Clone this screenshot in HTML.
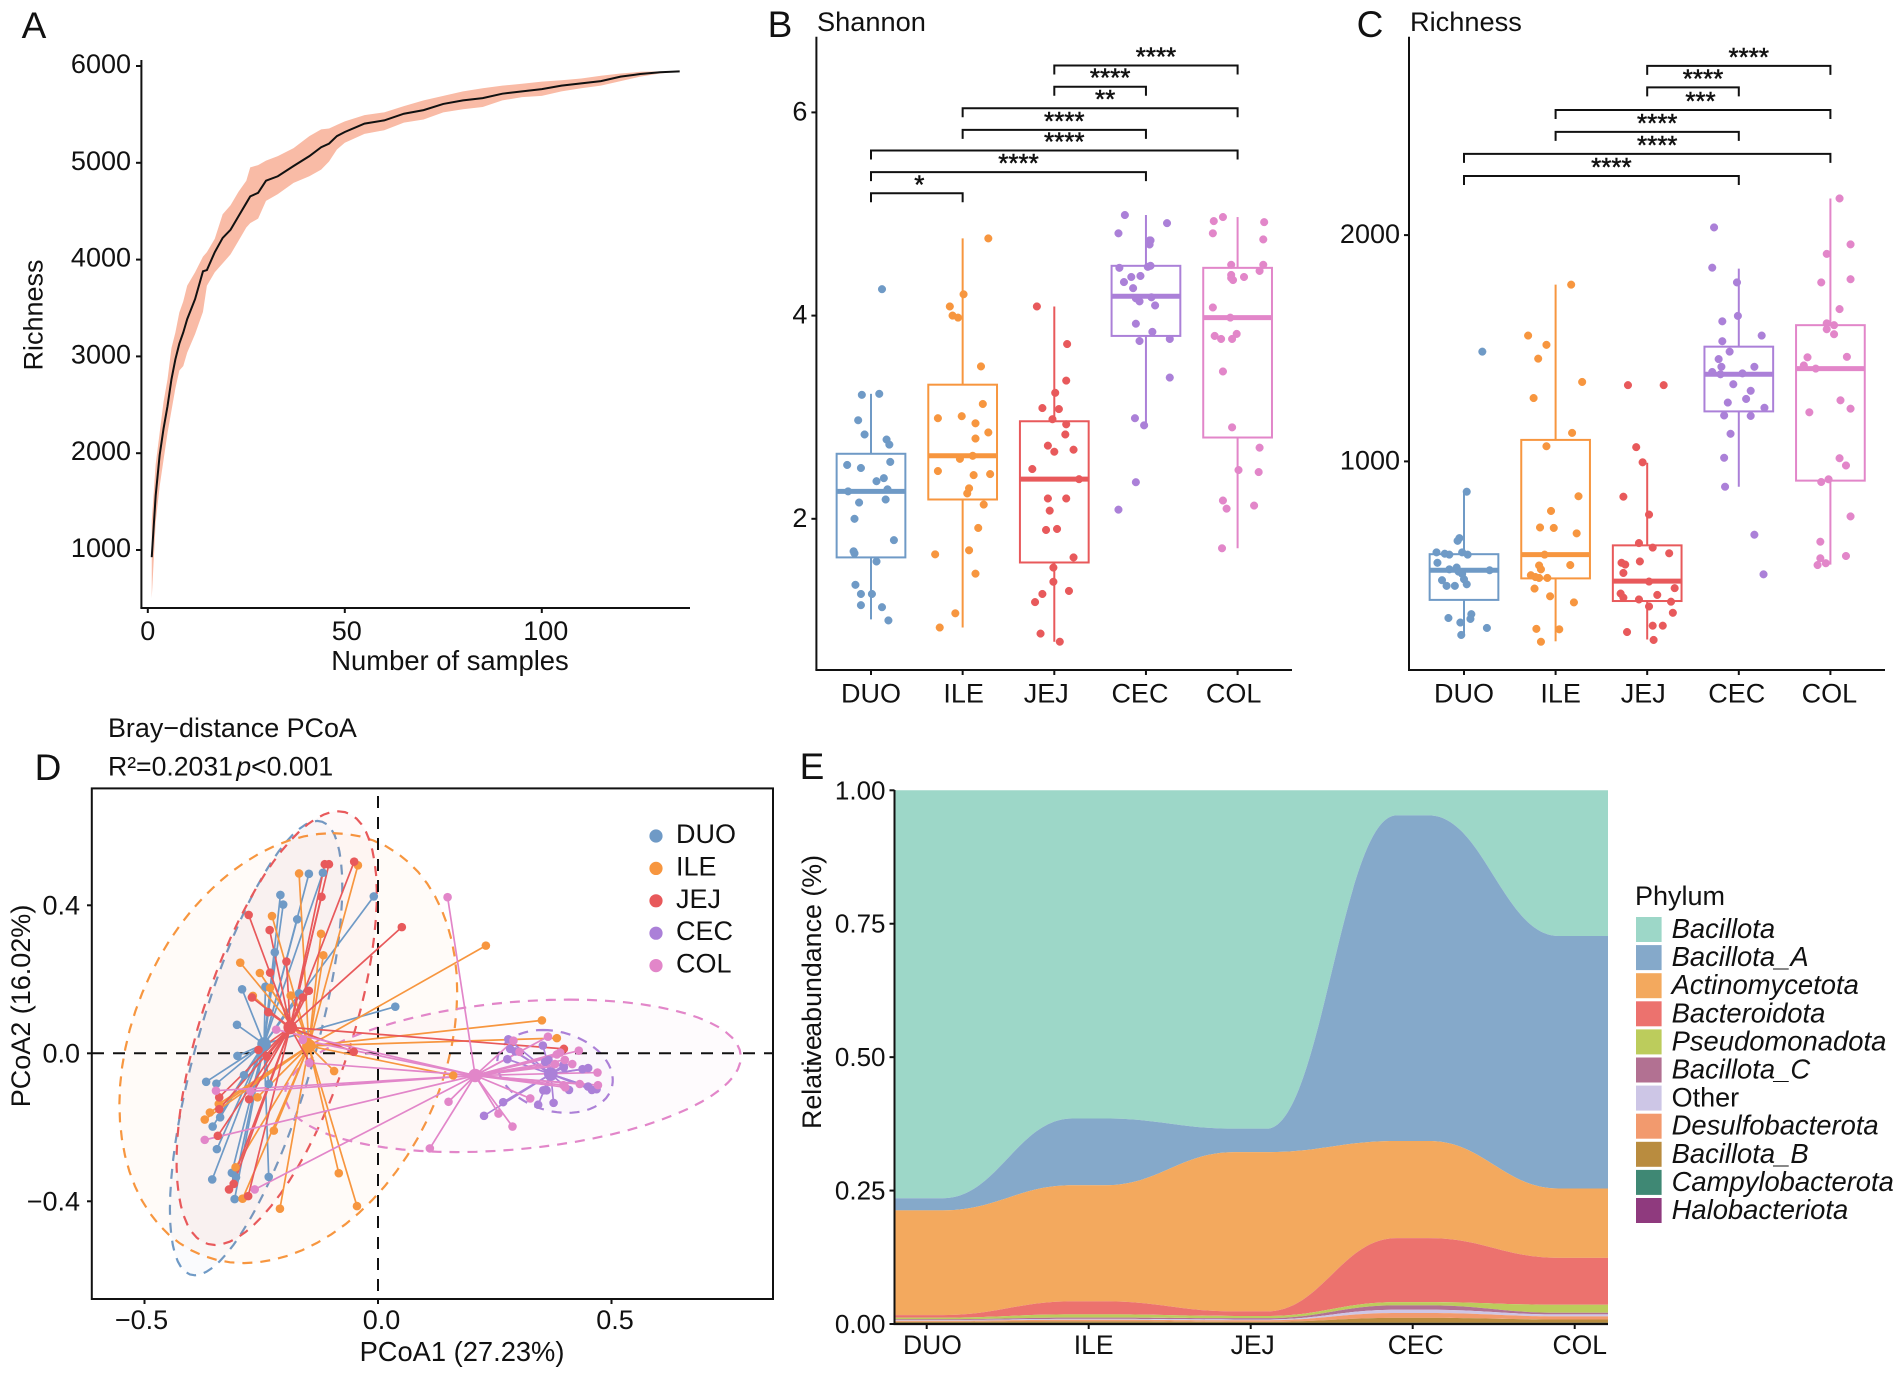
<!DOCTYPE html>
<html lang="en">
<head>
<meta charset="utf-8">
<title>Microbiome diversity figure</title>
<style>
html,body{margin:0;padding:0;background:#fff;width:1902px;height:1376px;overflow:hidden}
svg{display:block}
text{font-family:"Liberation Sans",Arial,sans-serif;fill:#111}
</style>
</head>
<body>
<svg id="fig" xmlns="http://www.w3.org/2000/svg" width="1902" height="1376" viewBox="0 0 1902 1376">
<rect width="1902" height="1376" fill="#fff"/>
<g id="panelA"></g>
<g id="panelB"></g>
<g id="panelC"></g>
<g id="panelD"></g>
<g id="panelE"></g>

<text x="34" y="38" font-size="37" text-anchor="middle">A</text>
<text x="780" y="37" font-size="37" text-anchor="middle">B</text>
<text x="1370" y="37" font-size="37" text-anchor="middle">C</text>
<text x="48" y="780" font-size="37" text-anchor="middle">D</text>
<text x="812" y="779" font-size="37" text-anchor="middle">E</text>

<text transform="translate(42.5,315) rotate(-90)" font-size="27" text-anchor="middle">Richness</text>
<text x="450" y="670" font-size="27.4" text-anchor="middle">Number of samples</text>
<text x="817" y="31" font-size="27.2">Shannon</text>
<text x="1410" y="31" font-size="27.2">Richness</text>

<text x="108" y="737" font-size="26.9">Bray−distance PCoA</text>
<text x="108" y="775.5" font-size="26.6">R²=0.2031 <tspan font-style="italic" dx="-4">p</tspan>&lt;0.001</text>
<text x="462" y="1361" font-size="27.3" text-anchor="middle">PCoA1 (27.23%)</text>
<text transform="translate(30,1006) rotate(-90)" font-size="27" text-anchor="middle">PCoA2 (16.02%)</text>

<text transform="translate(821,992) rotate(-90)" font-size="26.8" text-anchor="middle">Relati<tspan dx="-3">ve</tspan> <tspan dx="-9">abundance</tspan> (%)</text>
<text x="1635" y="905" font-size="27">Phylum</text>
</svg>
<script>
// ---------- Panel A data ----------
const rarefactionSamples=[1,2,3,4,5,6,7,8,9,10,12,14,15,17,19,21,23,25,26,28,30,33,37,41,44,46,48,50,55,60,65,70,75,80,85,90,95,100,105,110,115,120,125,130,135];
const rarefactionMean=[926,1563,1978,2255,2485,2762,2970,3131,3247,3385,3592,3879,3892,4077,4224,4308,4446,4584,4653,4690,4815,4861,4967,5069,5161,5198,5276,5318,5405,5438,5507,5544,5608,5645,5668,5714,5738,5761,5797,5821,5844,5890,5917,5936,5945];
const rarefactionLow=[500,1286,1655,1932,2208,2439,2670,2854,2900,3039,3230,3460,3730,3869,3961,4054,4192,4331,4377,4423,4607,4677,4792,4861,4930,5013,5138,5207,5299,5336,5415,5447,5521,5553,5576,5645,5678,5692,5738,5770,5797,5844,5890,5922,5945];
const rarefactionHigh=[1300,1886,2208,2531,2762,3085,3247,3454,3569,3731,3869,4031,4077,4215,4469,4562,4700,4815,4953,4976,5023,5069,5152,5276,5345,5354,5392,5428,5493,5521,5585,5645,5691,5738,5770,5797,5816,5839,5853,5871,5899,5922,5940,5945,5945];
const richnessYTicks=[1000,2000,3000,4000,5000,6000];
const samplesXTicks=[0,50,100];

// ---------- Shared categories ----------
const groups=['DUO','ILE','JEJ','CEC','COL'];
const groupColors=['#6f9ac6','#f7963f','#e8595b','#ab80d8','#e286c9'];

// ---------- Panel B data ----------
const shannonDUO=[4.26,3.22,3.23,2.97,2.83,2.78,2.73,2.56,2.53,2.50,2.40,2.37,2.29,2.27,2.19,2.16,2.00,1.79,1.68,1.66,1.58,1.35,1.26,1.26,1.15,1.13,1.00];
const shannonDUOJitter=[.12,-.10,.09,-.14,-.07,.17,.20,.21,-.26,-.11,.14,.06,.18,-.25,.16,-.13,-.18,.25,-.19,-.18,.06,-.17,-.11,.01,-.11,.12,.19];
const shannonILE=[4.76,4.21,4.09,4.00,3.98,3.50,3.13,2.99,3.01,2.94,2.85,2.79,2.62,2.59,2.47,2.43,2.44,2.30,2.25,2.14,1.91,1.69,1.65,1.46,1.07,.93];
const shannonILEJitter=[.28,.01,-.14,-.11,-.05,.20,.22,-.27,-.01,.14,.28,.14,.11,-.03,-.27,.12,.30,.07,.05,.23,.17,.07,-.30,.14,-.08,-.25];
const shannonJEJ=[4.09,3.72,3.36,3.24,3.09,3.08,2.98,2.93,2.83,2.72,2.68,2.66,2.49,2.39,2.20,2.20,2.08,1.89,1.90,1.62,1.52,1.38,1.29,1.26,1.18,.87,.79];
const shannonJEJJitter=[-.19,.14,.13,.01,-.13,.05,-.02,.13,.12,-.07,.21,0,-.24,.27,-.07,.13,-.05,-.09,.03,.21,-.01,-.01,.16,-.13,-.21,-.15,.06];
const shannonCEC=[4.99,4.91,4.81,4.74,4.74,4.70,4.47,4.48,4.49,4.38,4.39,4.33,4.27,4.17,4.14,4.18,4.10,3.92,3.84,3.75,3.77,3.39,2.99,2.92,2.36,2.09];
const shannonCECJitter=[-.23,.23,-.30,.04,.05,.04,-.29,.02,.05,-.16,-.06,-.24,-.14,-.11,-.07,.06,.10,-.11,.07,-.07,.26,.26,-.12,-.02,-.11,-.30];
const shannonCOL=[4.97,4.93,4.92,4.81,4.75,4.50,4.50,4.44,4.40,4.38,4.37,4.35,4.08,3.98,3.80,3.77,3.77,3.82,3.45,2.90,2.70,2.48,2.46,2.18,2.13,2.10,1.71];
const shannonCOLJitter=[-.16,-.26,.29,-.27,.28,-.07,.28,.24,-.07,.07,-.07,-.05,-.27,-.08,-.25,-.18,-.06,-.01,-.16,-.06,.24,.01,.23,-.16,.18,-.12,-.17];
const shannonQ1=[1.62,2.19,1.57,3.80,2.80];
const shannonMedian=[2.27,2.62,2.39,4.19,3.98];
const shannonQ3=[2.64,3.32,2.96,4.49,4.47];
const shannonWhiskerLow=[1.01,.93,.79,2.92,1.71];
const shannonWhiskerHigh=[3.23,4.76,4.09,4.99,4.97];
const shannonYTicks=[2,4,6];
const shannonBracketFrom=[2,2,1,1,0,0,0];
const shannonBracketTo=[4,3,4,3,4,3,1];
const shannonBracketLevel=[6.461,6.253,6.041,5.828,5.625,5.412,5.204];
const shannonBracketLabel=['****','****','**','****','****','****','*'];

// ---------- Panel C data ----------
const richnessDUO=[1485,866,661,649,598,592,588,598,588,552,523,531,513,503,519,475,479,457,450,450,308,325,304,288,264,233];
const richnessDUOJitter=[.20,.03,-.05,-.07,-.30,-.21,-.16,-.02,.04,-.29,-.16,-.08,-.06,-.02,.28,-.24,0,.03,-.19,-.10,-.17,.08,.07,-.04,.25,-.03];
const richnessILE=[1781,1556,1515,1454,1351,1280,1126,1067,846,781,708,706,682,588,540,542,523,497,489,485,485,438,404,377,260,258,203];
const richnessILEJitter=[.17,-.30,-.10,-.19,.29,-.24,.18,-.10,.25,-.05,-.17,-.02,.23,-.12,-.18,.16,-.16,-.27,-.22,-.18,-.09,-.23,-.06,.20,-.21,.04,-.16];
const richnessJEJ=[1337,1337,1063,996,844,765,639,619,594,552,544,558,507,469,440,416,398,410,390,380,359,331,274,274,246,211];
const richnessJEJJitter=[-.21,.18,-.12,-.05,-.26,.02,-.09,.06,.24,-.28,-.24,-.08,-.26,.02,.30,-.29,-.26,.11,-.09,.26,.02,.28,.06,.17,-.22,.07];
const richnessCEC=[2034,1856,1791,1643,1619,1531,1556,1485,1452,1418,1418,1395,1385,1389,1341,1312,1276,1260,1237,1203,1201,1122,1016,888,676,501];
const richnessCECJitter=[-.27,-.29,-.02,-.01,-.18,-.18,.25,-.10,-.22,-.19,.17,-.29,-.20,.04,-.06,.13,.08,-.12,.28,-.16,.13,-.09,-.16,-.15,.17,.27];
const richnessCOL=[2162,1959,1917,1805,1791,1673,1610,1602,1584,1562,1460,1462,1424,1410,1270,1233,1217,1014,982,909,921,757,645,572,582,542,550];
const richnessCOLJitter=[.10,.22,-.04,.22,-.10,.10,-.04,.04,-.04,.04,-.25,.18,-.29,-.16,.11,.22,-.23,.10,.17,-.10,-.02,.22,-.11,-.11,.17,-.14,-.05];
const richnessQ1=[388,483,383,1221,915];
const richnessMedian=[519,588,471,1385,1410];
const richnessQ3=[590,1095,629,1507,1602];
const richnessWhiskerLow=[233,205,213,888,544];
const richnessWhiskerHigh=[866,1781,994,1852,2162];
const richnessBoxYTicks=[1000,2000];
const richnessBracketFrom=[2,2,1,1,0,0];
const richnessBracketTo=[4,3,4,3,4,3];
const richnessBracketLevel=[2748,2653,2553,2456,2359,2261];
const richnessBracketLabel=['****','****','***','****','****','****'];

// ---------- Panel D data ----------
const pcoaDUOx=[-.148,-.118,-.209,-.203,-.173,-.009,-.221,-.241,-.169,-.291,-.302,.037,-.301,-.368,-.346,-.287,-.234,-.338,-.354,-.345,-.355,-.313,-.304,-.234,-.307];
const pcoaDUOy=[.485,.488,.428,.402,.362,.424,.273,.180,.162,.173,.077,.126,-.007,-.077,-.082,-.059,-.083,-.173,-.198,-.259,-.341,-.323,-.335,-.334,-.394];
const pcoaILEx=[-.169,-.043,-.227,-.122,-.117,-.295,-.253,-.231,-.187,-.268,-.094,.231,.161,-.084,-.045,-.210,-.223,-.305,-.290,-.258,-.341,-.360,-.371,.351,.383];
const pcoaILEy=[.486,.508,.371,.323,.265,.245,.217,.177,.156,.155,-.048,.291,-.060,-.324,-.413,-.420,-.209,-.308,-.393,-.119,-.137,-.160,-.179,.089,.041];
const pcoaJEJx=[-.051,-.114,-.105,-.121,-.277,-.232,.051,-.196,-.231,-.148,-.161,-.270,-.235,-.256,-.238,-.052,-.146,-.340,-.340,-.343,-.276,-.309,-.319,-.278,.398];
const pcoaJEJy=[.518,.511,.511,.423,.374,.333,.341,.248,.218,.169,.151,.151,.111,.009,-.009,.004,-.026,-.119,-.151,-.223,-.124,-.353,-.368,-.386,.012];
const pcoaCECx=[.279,.283,.294,.277,.353,.358,.365,.398,.438,.450,.354,.361,.268,.227,.343,.376,.409,.450,.458,.468,.397];
const pcoaCECy=[.038,.012,.005,-.016,.021,-.023,-.018,-.038,-.043,-.040,-.100,-.100,-.132,-.169,-.139,-.134,-.099,-.090,-.099,-.097,-.032];
const pcoaCOLx=[.149,.111,.151,-.218,-.161,-.147,-.347,-.273,-.371,-.264,.258,.288,.326,.290,.303,.364,.430,.383,.390,.379,.400,.416,.470,.432,.397,.401,.471];
const pcoaCOLy=[.422,-.257,-.131,.064,.036,-.026,-.101,-.103,-.234,-.368,-.163,-.198,-.122,.034,.004,.045,.007,-.003,.002,-.029,-.018,-.029,-.052,-.083,-.086,-.092,-.086];
const centroidX=[-.244,-.148,-.188,.370,.208];
const centroidY=[.025,.020,.070,-.056,-.060];
const ellipseCenterX=[-.261,-.192,-.217,.379,.289];
const ellipseCenterY=[.014,.014,.068,-.049,-.061];
const ellipseMajorX=[.131,.095,.132,-.026,.120];
const ellipseMajorY=[.614,.581,.586,.112,.206];
const ellipseMinorX=[.130,.349,.169,.121,.473];
const pcoaXTicks=[-.5,0,.5];
const pcoaXTickLabels=['−0.5','0.0','0.5'];
const pcoaYTicks=[-.4,0,.4];
const pcoaYTickLabels=['−0.4','0.0','0.4'];

// ---------- Panel E data ----------
const phylumNames=['Bacillota','Bacillota_A','Actinomycetota','Bacteroidota','Pseudomonadota','Bacillota_C','Other','Desulfobacterota','Bacillota_B','Campylobacterota','Halobacteriota'];
const phylumColors=['#9dd7c8','#85a9ca','#f3a95e','#ec726e','#bccc5c','#b27192','#cdc6e6','#f29a6e','#b98c3f','#3f8874','#8f3a7e'];
const abundBacillota=[.7644,.615,.634,.047,.273];
const abundBacillotaA=[.0226,.125,.044,.61,.473];
const abundActinomycetota=[.1963,.2175,.2984,.182,.13];
const abundBacteroidota=[.0047,.0245,.0086,.12,.088];
const abundPseudomonadota=[.003,.006,.004,.006,.015];
const abundBacillotaC=[.0015,.0025,.0025,.0084,.003];
const abundOther=[.0015,.0015,.0015,.0061,.0036];
const abundDesulfobacterota=[.002,.003,.003,.0091,.0059];
const abundBacillotaB=[.002,.003,.002,.0094,.0065];
const abundCampylobacterota=[.001,.001,.001,.001,.001];
const abundHalobacteriota=[.001,.001,.001,.001,.001];
const abundanceYTicks=[0,.25,.5,.75,1];

// ---------- Helpers ----------
const SVGNS='http://www.w3.org/2000/svg';
function el(tag,attrs,parent,txt){
  const e=document.createElementNS(SVGNS,tag);
  for(const k in attrs)e.setAttribute(k,attrs[k]);
  if(txt!==undefined)e.textContent=txt;
  parent.appendChild(e);
  return e;
}
function axisLine(parent,name,x1,y1,x2,y2,w){
  const l=el('line',{x1,y1,x2,y2,stroke:'#111','stroke-width':w||2},parent);
  
  
  return l;
}
function label(parent,name,x,y,str,anchor,size){
  const t=el('text',{x,y,'font-size':size||27,'text-anchor':anchor||'middle'},parent,str);
  
  
  return t;
}

// ---------- Panel A ----------
(function(){
  const g=document.getElementById('panelA');
  const xA=n=>147.8+n*3.94, yA=v=>550-(v-1000)*0.0968;
  const up=rarefactionSamples.map((n,i)=>xA(n)+','+yA(rarefactionHigh[i]));
  const dn=rarefactionSamples.map((n,i)=>xA(n)+','+yA(rarefactionLow[i])).reverse();
  const band=el('polygon',{points:up.concat(dn).join(' '),fill:'#f9bba6'},g);
  
  
  const line=el('polyline',{points:rarefactionSamples.map((n,i)=>xA(n)+','+yA(rarefactionMean[i])).join(' '),fill:'none',stroke:'#111','stroke-width':2},g);
  
  
  axisLine(g,'a-y-axis',141.4,60,141.4,608);
  axisLine(g,'a-x-axis',140.4,608,690,608);
  richnessYTicks.forEach(v=>{
    axisLine(g,'a-y-tick',136,yA(v),141.4,yA(v));
    label(g,'a-y-tick-label',131,yA(v)+7,String(v),'end');
  });
  samplesXTicks.forEach(v=>{
    axisLine(g,'a-x-tick',xA(v),608,xA(v),613);
    label(g,'a-x-tick-label',xA(v)+v*0.04,640,String(v));
  });
})();

// ---------- Panels B and C ----------
function boxPanel(cfg){
  const g=document.getElementById(cfg.id);
  const xs=i=>cfg.x0+i*cfg.dx, ys=cfg.y;
  const hw=.375*cfg.dx;
  groups.forEach((name,i)=>{
    const c=groupColors[i];
    cfg.values[i].forEach((v,k)=>{
      const p=el('circle',{cx:xs(i)+cfg.jitter[i][k]*cfg.dx,cy:ys(v),r:3.8,fill:c,stroke:c,'stroke-width':.5},g);
      
      
    });
    const w1=el('line',{x1:xs(i),x2:xs(i),y1:ys(cfg.high[i]),y2:ys(cfg.q3[i]),stroke:c,'stroke-width':2},g);
    
    
    const w2=el('line',{x1:xs(i),x2:xs(i),y1:ys(cfg.q1[i]),y2:ys(cfg.low[i]),stroke:c,'stroke-width':2},g);
    
    
    const b=el('rect',{x:xs(i)-hw,y:ys(cfg.q3[i]),width:hw*2,height:ys(cfg.q1[i])-ys(cfg.q3[i]),fill:'none',stroke:c,'stroke-width':2},g);
    
    
    const m=el('line',{x1:xs(i)-hw,x2:xs(i)+hw,y1:ys(cfg.med[i]),y2:ys(cfg.med[i]),stroke:c,'stroke-width':5},g);
    
    
  });
  cfg.bFrom.forEach((f,k)=>{
    const x1=xs(f),x2=xs(cfg.bTo[k]),y=ys(cfg.bLevel[k]),lab=cfg.bLabel[k];
    const br=el('path',{d:`M${x1} ${y+9}V${y}H${x2}V${y+9}`,fill:'none',stroke:'#111','stroke-width':2},g);
    
    
    const st=label(g,cfg.tag+'-significance-label',(x1+x2)/2+lab.length*2.5,y,lab,'middle',26);
    st.setAttribute('stroke','#111');
    st.setAttribute('stroke-width','0.5');
  });
  axisLine(g,cfg.tag+'-y-axis',cfg.ax,36.7,cfg.ax,670);
  axisLine(g,cfg.tag+'-x-axis',cfg.ax-1,670,cfg.xEnd,670);
  cfg.ticks.forEach(v=>{
    axisLine(g,cfg.tag+'-y-tick',cfg.ax-5,ys(v),cfg.ax,ys(v));
    label(g,cfg.tag+'-y-tick-label',cfg.ax-9,ys(v)+8,String(v),'end');
  });
  groups.forEach((name,i)=>{
    axisLine(g,cfg.tag+'-x-tick',xs(i),670,xs(i),675);
    label(g,cfg.tag+'-x-tick-label',xs(i)+cfg.nudge[i],702.5,name);
  });
}
boxPanel({id:'panelB',tag:'shannon',x0:871,dx:91.65,ax:816.4,xEnd:1292,y:v=>518.8-(v-2)*101.6,
  values:[shannonDUO,shannonILE,shannonJEJ,shannonCEC,shannonCOL],
  jitter:[shannonDUOJitter,shannonILEJitter,shannonJEJJitter,shannonCECJitter,shannonCOLJitter],
  q1:shannonQ1,med:shannonMedian,q3:shannonQ3,low:shannonWhiskerLow,high:shannonWhiskerHigh,ticks:shannonYTicks,
  bFrom:shannonBracketFrom,bTo:shannonBracketTo,bLevel:shannonBracketLevel,bLabel:shannonBracketLabel,nudge:[0,1,-8,-6,-4]});
boxPanel({id:'panelC',tag:'richness',x0:1464,dx:91.6,ax:1409,xEnd:1885,y:v=>461.4-(v-1000)*.2263,
  values:[richnessDUO,richnessILE,richnessJEJ,richnessCEC,richnessCOL],
  jitter:[richnessDUOJitter,richnessILEJitter,richnessJEJJitter,richnessCECJitter,richnessCOLJitter],
  q1:richnessQ1,med:richnessMedian,q3:richnessQ3,low:richnessWhiskerLow,high:richnessWhiskerHigh,ticks:richnessBoxYTicks,
  bFrom:richnessBracketFrom,bTo:richnessBracketTo,bLevel:richnessBracketLevel,bLabel:richnessBracketLabel,nudge:[0,5,-4,-2,-1]});

// ---------- Panel D ----------
(function(){
  const g=document.getElementById('panelD');
  const xD=v=>378+v*467, yD=v=>1053.3-v*370;
  const xsAll=[pcoaDUOx,pcoaILEx,pcoaJEJx,pcoaCECx,pcoaCOLx];
  const ysAll=[pcoaDUOy,pcoaILEy,pcoaJEJy,pcoaCECy,pcoaCOLy];
  groups.forEach((name,i)=>{
    let d='';
    for(let t=0;t<=72;t++){
      const a=t/72*2*Math.PI;
      const px=xD(ellipseCenterX[i]+ellipseMajorX[i]*Math.cos(a)+ellipseMinorX[i]*Math.sin(a));
      const py=yD(ellipseCenterY[i]+ellipseMajorY[i]*Math.cos(a));
      d+=(t?'L':'M')+px.toFixed(1)+' '+py.toFixed(1);
    }
    const fillE=el('path',{d:d+'Z',fill:groupColors[i],'fill-opacity':.035},g);
    
    
    const strokeE=el('path',{d:d+'Z',fill:'none',stroke:groupColors[i],'stroke-width':2.2,'stroke-dasharray':'10 8'},g);
    
    
  });
  const h=el('line',{x1:92,x2:773,y1:yD(0),y2:yD(0),stroke:'#111','stroke-width':2,'stroke-dasharray':'12 9'},g);
  
  
  const v=el('line',{x1:xD(0),x2:xD(0),y1:796,y2:1299,stroke:'#111','stroke-width':2,'stroke-dasharray':'12 9'},g);
  
  
  groups.forEach((name,i)=>{
    const c=groupColors[i];
    xsAll[i].forEach((px,k)=>{
      const s=el('line',{x1:xD(centroidX[i]),y1:yD(centroidY[i]),x2:xD(px),y2:yD(ysAll[i][k]),stroke:c,'stroke-width':1.7},g);
      
      
    });
  });
  groups.forEach((name,i)=>{
    const c=groupColors[i];
    xsAll[i].forEach((px,k)=>{
      const p=el('circle',{cx:xD(px),cy:yD(ysAll[i][k]),r:4.3,fill:c},g);
      
      
    });
    const ce=el('circle',{cx:xD(centroidX[i]),cy:yD(centroidY[i]),r:6.8,fill:c},g);
    
    
  });
  const frame=el('rect',{x:91.8,y:788.4,width:681.2,height:510.6,fill:'none',stroke:'#111','stroke-width':2},g);
  
  
  pcoaXTicks.forEach((t,i)=>{
    axisLine(g,'d-x-tick',xD(t),1299,xD(t),1304);
    label(g,'d-x-tick-label',xD(t)+(i===0?-3:3.5),1329,pcoaXTickLabels[i]);
  });
  pcoaYTicks.forEach((t,i)=>{
    axisLine(g,'d-y-tick',87,yD(t),91.8,yD(t));
    label(g,'d-y-tick-label',80,yD(t)+9,pcoaYTickLabels[i],'end');
  });
  groups.forEach((name,i)=>{
    const y=836+i*32.4;
    const d=el('circle',{cx:656,cy:y,r:6.6,fill:groupColors[i]},g);
    
    
    label(g,'legend-label-'+name.toLowerCase(),676,y+7,name,'start');
  });
})();

// ---------- Panel E ----------
(function(){
  const g=document.getElementById('panelE');
  const layers=[abundBacillota,abundBacillotaA,abundActinomycetota,abundBacteroidota,abundPseudomonadota,abundBacillotaC,abundOther,abundDesulfobacterota,abundBacillotaB,abundCampylobacterota,abundHalobacteriota];
  const xE=i=>926.7+i*162, yE=v=>1324-v*533.7;
  const L=894.5,R=1608,F=.1,K=.42;
  function forward(vals){
    let d=`M${L} ${yE(vals[0])}L${xE(0)+F*162} ${yE(vals[0])}`;
    for(let i=1;i<vals.length;i++){
      const a=xE(i-1)+F*162,b=xE(i)-F*162,c1=a+K*(b-a),c2=b-K*(b-a);
      d+=`C${c1} ${yE(vals[i-1])} ${c2} ${yE(vals[i])} ${b} ${yE(vals[i])}L${xE(i)+F*162} ${yE(vals[i])}`;
    }
    return d+`L${R} ${yE(vals[vals.length-1])}`;
  }
  function backward(vals){
    const n=vals.length;
    let d=`L${R} ${yE(vals[n-1])}L${xE(n-1)-F*162} ${yE(vals[n-1])}`;
    for(let i=n-2;i>=0;i--){
      const a=xE(i+1)-F*162,b=xE(i)+F*162,c1=a+K*(b-a),c2=b-K*(b-a);
      d+=`C${c1} ${yE(vals[i+1])} ${c2} ${yE(vals[i])} ${b} ${yE(vals[i])}L${xE(i)-F*162} ${yE(vals[i])}`;
    }
    return d+`L${L} ${yE(vals[0])}Z`;
  }
  // stack from the bottom layer upward
  let base=groups.map(()=>0);
  const stacks=[];
  for(let l=layers.length-1;l>=0;l--){
    const top=base.map((b,i)=>b+layers[l][i]);
    stacks[l]={top,bottom:base};
    base=top;
  }
  stacks.forEach((s,l)=>{
    const p=el('path',{d:forward(s.top)+backward(s.bottom),fill:phylumColors[l]},g);
    
    
  });
  axisLine(g,'e-y-axis',894.5,790,894.5,1325,2);
  axisLine(g,'e-x-axis',893.5,1324,1608,1324,2.2);
  abundanceYTicks.forEach(v=>{
    axisLine(g,'e-y-tick',889.5,yE(v),894.5,yE(v));
    label(g,'e-y-tick-label',885.5,yE(v)+9,v.toFixed(2),'end',26);
  });
  const nudge=[5.7,5,2,3,5];
  groups.forEach((name,i)=>{
    axisLine(g,'e-x-tick',xE(i),1324,xE(i),1329);
    label(g,'e-x-tick-label',xE(i)+nudge[i],1354,name,'middle',26.5);
  });
  phylumNames.forEach((name,i)=>{
    const y=917+i*28.1;
    const sw=el('rect',{x:1636,y,width:25.6,height:25,fill:phylumColors[i]},g);
    
    
    const t=label(g,'phylum-legend-label',1671.6,y+21,name,'start',name==='Other'?27:27.4);
    if(name!=='Other')t.setAttribute('font-style','italic');
  });
})();
</script>
</body>
</html>
